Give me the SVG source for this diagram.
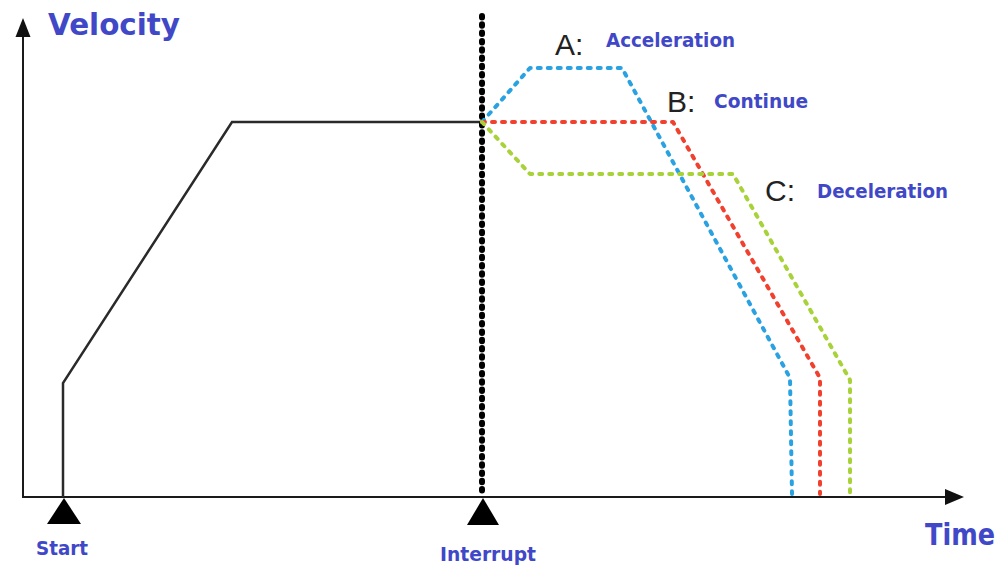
<svg xmlns="http://www.w3.org/2000/svg" width="1007" height="566" viewBox="0 0 1007 566">
<defs>
<style>
.axis{stroke:#1a1a1a;stroke-width:2;fill:none}
.solid{stroke:#2a2a2a;stroke-width:2.5;fill:none;stroke-linejoin:miter}
.dot{fill:none;stroke-linecap:round;stroke-linejoin:round;stroke-width:4;stroke-dasharray:3 7}
.lbl{font-family:"DejaVu Sans",Verdana,sans-serif;font-weight:bold;fill:#4048c8}
.key{font-family:"Liberation Sans",Arial,sans-serif;fill:#222;font-size:30px}
</style>
</defs>
<rect width="1007" height="566" fill="#fff"/>
<g id="connectors">
<g id="axes">
<path class="axis" d="M23 497 V30"/>
<polygon points="23,18 15.5,37 30.5,37" fill="#111"/>
<path class="axis" d="M22 497 H950"/>
<polygon points="964,497 945,489 945,505" fill="#111"/>
</g>
<path id="profile" class="solid" d="M63 497 V383 L232 122 H482"/>
<path id="interrupt-line" d="M482 16 V497" fill="none" stroke="#000" stroke-width="6" stroke-linecap="round" stroke-dasharray="1.5 6.8"/>
<path id="curve-a" class="dot" stroke="#2aa2e2" d="M482 122 L530 68 H622 L790 378 L792 494"/>
<path id="curve-b" class="dot" stroke="#f2402e" d="M482 122 H673 L820 378 V494"/>
<path id="curve-c" class="dot" stroke="#a8d23a" d="M482 122 L530 174 H733 L850 380 V494"/>
</g>
<g id="start-marker">
<polygon points="64,498 47,524 81,524" fill="#000"/>
<text class="lbl" x="36" y="555" font-size="19" textLength="52" lengthAdjust="spacingAndGlyphs">Start</text>
</g>
<g id="interrupt-marker">
<polygon points="483,498 467,525 499,525" fill="#000"/>
<text class="lbl" x="440" y="561" font-size="19.5" textLength="96" lengthAdjust="spacingAndGlyphs">Interrupt</text>
</g>
<g id="velocity-label">
<text class="lbl" x="48" y="35" font-size="30" textLength="132" lengthAdjust="spacingAndGlyphs">Velocity</text>
</g>
<g id="time-label">
<text class="lbl" x="925" y="545" font-size="30" textLength="70" lengthAdjust="spacingAndGlyphs">Time</text>
</g>
<g id="label-a">
<text class="key" x="555" y="55">A:</text>
<text class="lbl" x="606" y="47" font-size="19.5" textLength="129" lengthAdjust="spacingAndGlyphs">Acceleration</text>
</g>
<g id="label-b">
<text class="key" x="667" y="112">B:</text>
<text class="lbl" x="714" y="108" font-size="19.5" textLength="94" lengthAdjust="spacingAndGlyphs">Continue</text>
</g>
<g id="label-c">
<text class="key" x="765" y="201">C:</text>
<text class="lbl" x="817" y="198" font-size="19.5" textLength="131" lengthAdjust="spacingAndGlyphs">Deceleration</text>
</g>
</svg>
